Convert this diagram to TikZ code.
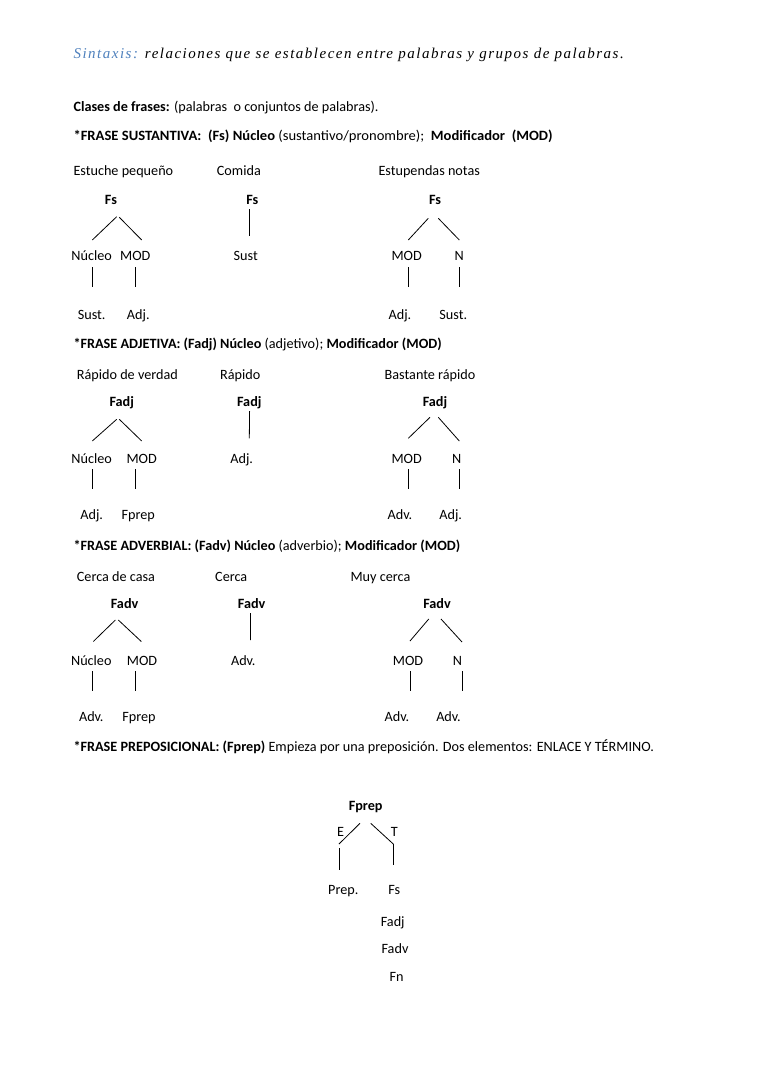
\documentclass[tikz,border=0pt]{standalone}
\usepackage{fontspec}
\usetikzlibrary{calc}
\setmainfont{Carlito}
\newfontfamily\hdrfont{Liberation Serif}[LetterSpace=10]
\definecolor{hblue}{HTML}{4F81BD}
\begin{document}
\begin{tikzpicture}[x=1pt,y=-1pt,
  tline/.style={line width=0.8pt},
  lbl/.style={inner sep=0pt, text height=0.64em, text depth=0pt, font=\fontsize{14.2}{17}\selectfont},
  rootlbl/.style={lbl, font=\fontsize{14.2}{17}\selectfont\bfseries},
  txt/.style={anchor=base west, inner sep=0pt, font=\fontsize{14.2}{17}\selectfont}]
\fill[white] (0,0) rectangle (768,1087);
\useasboundingbox (0,0) rectangle (768,1087);

% header
\node[txt, font=\hdrfont\itshape\fontsize{15}{18}\selectfont] (hdr) at (73.3,58)
  {\textcolor{hblue}{Sintaxis:} relaciones que se establecen entre palabras y grupos de palabras.};

\node[txt] (clases) at (73.3,111) {\textbf{Clases de frases:} (palabras\ \ o conjuntos de palabras).};

% ---------- Frase sustantiva
\node[txt] (h1) at (73.3,140.7) {\scalebox{1.028}[1]{\textbf{*FRASE SUSTANTIVA:\ \ (Fs) Núcleo} (sustantivo/pronombre);\ \ \textbf{Modificador\ \ (MOD)}}};
\node[txt] (e11) at (73.3,175) {Estuche pequeño};
\node[txt] (e12) at (216.7,175) {Comida};
\node[txt] (e13) at (378.3,175) {Estupendas notas};

\node[rootlbl] (fs1) at (111,201.7) {Fs};
\node[lbl] (nuc1) at (91.7,257.3) {Núcleo};
\node[lbl] (mod1) at (135.3,257.3) {MOD};
\node[lbl] (su1) at (91.7,316) {Sust.};
\node[lbl] (ad1) at (138.3,316) {Adj.};
\draw[tline] ($(fs1)+(5.7,15)$) -- ($(nuc1)+(0.6,-17.3)$);
\draw[tline] ($(fs1)+(8.3,15.6)$) -- ($(mod1)+(6.4,-17.3)$);
\draw[tline] ($(nuc1)+(0.6,10)$) -- ($(su1)+(0.6,-28.7)$);
\draw[tline] ($(mod1)+(0,10)$) -- ($(ad1)+(-3,-28.7)$);

\node[rootlbl] (fs2) at (252.3,201.7) {Fs};
\node[lbl] (sust2) at (245.7,257.3) {Sust};
\draw[tline] ($(fs2)+(-3,7.3)$) -- ($(sust2)+(3.6,-21.3)$);

\node[rootlbl] (fs3) at (435,201.7) {Fs};
\node[lbl] (mod3) at (406.7,257.3) {MOD};
\node[lbl] (n3) at (459.3,257.3) {N};
\node[lbl] (adj3) at (400,316) {Adj.};
\node[lbl] (sust3) at (453.3,316) {Sust.};
\draw[tline] ($(fs3)+(-6.7,16.6)$) -- ($(mod3)+(1.6,-17.3)$);
\draw[tline] ($(fs3)+(3.3,16.6)$) -- ($(n3)+(0,-17.3)$);
\draw[tline] ($(mod3)+(1.6,10)$) -- ($(adj3)+(8.3,-28.7)$);
\draw[tline] ($(n3)+(0,10)$) -- ($(sust3)+(6,-28.7)$);

% ---------- Frase adjetiva
\node[txt] (h2) at (73.3,348.3) {\textbf{*FRASE ADJETIVA: (Fadj) Núcleo} (adjetivo); \textbf{Modificador (MOD)}};
\node[txt] (e21) at (76.7,379.3) {Rápido de verdad};
\node[txt] (e22) at (220,379.3) {Rápido};
\node[txt] (e23) at (384.5,379.3) {Bastante rápido};

\node[rootlbl] (fadj1) at (121.7,403.3) {Fadj};
\node[lbl] (nuc4) at (91.7,460) {Núcleo};
\node[lbl] (mod4) at (141.7,460) {MOD};
\node[lbl] (adj4) at (91.7,516.7) {Adj.};
\node[lbl] (fp4) at (138.3,516.7) {Fprep};
\draw[tline] ($(fadj1)+(-5,16)$) -- ($(nuc4)+(0.6,-19)$);
\draw[tline] ($(fadj1)+(-2.4,16)$) -- ($(mod4)+(0,-19)$);
\draw[tline] ($(nuc4)+(0.6,9.3)$) -- ($(adj4)+(0.6,-27.4)$);
\draw[tline] ($(mod4)+(-6.4,9.3)$) -- ($(fp4)+(-3,-27.4)$);

\node[rootlbl] (fadj2) at (249.3,403.3) {Fadj};
\node[lbl] (adj5) at (241.7,460) {Adj.};
\draw[tline] ($(fadj2)+(0.3,7.7)$) -- ($(adj5)+(7.6,-21.7)$);

\node[rootlbl] (fadj3) at (435,403.3) {Fadj};
\node[lbl] (mod6) at (406.7,460) {MOD};
\node[lbl] (n6) at (456.7,460) {N};
\node[lbl] (adv6) at (400,516.7) {Adv.};
\node[lbl] (adj6) at (450.7,516.7) {Adj.};
\draw[tline] ($(fadj3)+(-5,14)$) -- ($(mod6)+(1.6,-21.7)$);
\draw[tline] ($(fadj3)+(3.3,14)$) -- ($(n6)+(2.6,-19)$);
\draw[tline] ($(mod6)+(1.6,9.3)$) -- ($(adv6)+(8.3,-27.4)$);
\draw[tline] ($(n6)+(2.6,9.3)$) -- ($(adj6)+(8.6,-27.4)$);

% ---------- Frase adverbial
\node[txt] (h3) at (73.3,550) {\textbf{*FRASE ADVERBIAL: (Fadv) Núcleo} (adverbio); \textbf{Modificador (MOD)}};
\node[txt] (e31) at (76.7,581) {Cerca de casa};
\node[txt] (e32) at (215,581) {Cerca};
\node[txt] (e33) at (350.4,581) {Muy cerca};

\node[rootlbl] (fadv1) at (124.6,605) {Fadv};
\node[lbl] (nuc7) at (91.3,662) {Núcleo};
\node[lbl] (mod7) at (142,662) {MOD};
\node[lbl] (adv7) at (91.3,718.4) {Adv.};
\node[lbl] (fp7) at (139,718.4) {Fprep};
\draw[tline] ($(fadv1)+(-9.2,15)$) -- ($(nuc7)+(2,-20.5)$);
\draw[tline] ($(fadv1)+(-6.3,15)$) -- ($(mod7)+(-0.7,-20.5)$);
\draw[tline] ($(nuc7)+(1.2,9)$) -- ($(adv7)+(1.2,-27.4)$);
\draw[tline] ($(mod7)+(-6.2,9)$) -- ($(fp7)+(-3.2,-27.4)$);

\node[rootlbl] (fadv2) at (251.7,605) {Fadv};
\node[lbl] (adv8) at (243.3,662) {Adv.};
\draw[tline] ($(fadv2)+(-1.3,8)$) -- ($(adv8)+(7.1,-22)$);

\node[rootlbl] (fadv3) at (437,605) {Fadv};
\node[lbl] (mod9) at (408,662) {MOD};
\node[lbl] (n9) at (457.5,662) {N};
\node[lbl] (adv9) at (397,718.4) {Adv.};
\node[lbl] (adv9b) at (448.5,718.4) {Adv.};
\draw[tline] ($(fadv3)+(-8.25,14)$) -- ($(mod9)+(2,-21)$);
\draw[tline] ($(fadv3)+(4,14)$) -- ($(n9)+(4.5,-20)$);
\draw[tline] ($(mod9)+(2,9)$) -- ($(adv9)+(13,-27.4)$);
\draw[tline] ($(n9)+(4.5,9)$) -- ($(adv9b)+(13.5,-27.4)$);

% ---------- Frase preposicional
\node[txt] (h4) at (73.3,751) {\textbf{*FRASE PREPOSICIONAL: (Fprep)} Empieza por una preposición. Dos elementos: ENLACE Y TÉRMINO.};

\node[rootlbl] (fprep) at (365.7,807.7) {Fprep};
\node[lbl] (e) at (340.7,833.3) {E};
\node[lbl] (t) at (394.3,833.3) {T};
\node[lbl] (prep) at (343.3,891.7) {Prep.};
\node[lbl] (fsx) at (394.3,891.7) {Fs};
\node[lbl] (fadjx) at (392.7,923.3) {Fadj};
\node[lbl] (fadvx) at (395,950) {Fadv};
\node[lbl] (fnx) at (396.7,978.3) {Fn};
\draw[tline] ($(fprep)+(-5.7,15.6)$) -- ($(e)+(-1.7,10.7)$);
\draw[tline] ($(fprep)+(5,15.6)$) -- ($(t)+(-1,10.7)$);
\draw[tline] ($(e)+(-1.7,15)$) -- ($(prep)+(-4.3,-21.7)$);
\draw[tline] ($(t)+(-1,10.7)$) -- ($(fsx)+(-1,-26.7)$);
\end{tikzpicture}
\end{document}
